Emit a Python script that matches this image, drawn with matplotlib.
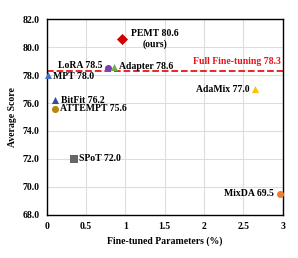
import matplotlib
matplotlib.use('Agg')
from matplotlib import pyplot as plt

# data
methods = ['PEMT', 'LoRA', 'Adapter', 'MPT', 'BitFit', 'ATTEMPT', 'SPoT', 'AdaMix', 'MixDA']
params = [0.95, 0.78, 0.85, 0.01, 0.11, 0.10, 0.34, 2.65, 2.96]
scores = [80.6, 78.5, 78.6, 78.0, 76.2, 75.6, 72.0, 77.0, 69.5]
markers = ['D', 'o', '^', '^', '^', 'o', 's', '^', 'o']
colors = ['#cc0000', '#7b3fb5', '#70ad47', '#4472c4', '#2f4f8f', '#b8860b', '#666666', '#ffc000', '#ed7d31']
sides = ['pemt', 'left', 'right', 'right', 'right', 'right', 'right', 'left', 'left']
dy = [0, 1.5, 0, -1, 0, 0, 0, 0, 0]
full_ft = 78.3

plt.rcParams['font.family'] = ['Liberation Serif', 'DejaVu Serif']
plt.rcParams['font.weight'] = 'bold'

fig = plt.figure(figsize=(2.98, 2.58), dpi=100)
ax = fig.add_axes([0.157, 0.167, 0.792, 0.759])

ax.grid(True, color='#dddddd', linewidth=0.8)
ax.set_axisbelow(True)

for m, x, y, mk, c, side, d in zip(methods, params, scores, markers, colors, sides, dy):
    ax.scatter(x, y, marker=mk, color=c, s=26 if mk != 'D' else 32, zorder=3, clip_on=False,
               linewidths=0)
    if side == 'pemt':
        ax.annotate(f'{m} {y}\n(ours)', (x, y), xytext=(7, 0), textcoords='offset points',
                    ha='left', va='center', multialignment='center', fontsize=7, fontweight='bold')
    elif side == 'left':
        ax.annotate(f'{m} {y}', (x, y), xytext=(-4, d), textcoords='offset points',
                    ha='right', va='center', fontsize=7, fontweight='bold')
    else:
        ax.annotate(f'{m} {y}', (x, y), xytext=(4, d), textcoords='offset points',
                    ha='left', va='center', fontsize=7, fontweight='bold')

ax.axhline(full_ft, color='#e8141c', linestyle='--', linewidth=1.3, zorder=2)
ax.text(2.97, full_ft + 0.35, f'Full Fine-tuning {full_ft}', color='#e8141c',
        ha='right', va='bottom', fontsize=7, fontweight='bold')

ax.set_xlim(0, 3)
ax.set_ylim(68, 82)
ax.set_xticks([0, 0.5, 1, 1.5, 2, 2.5, 3])
ax.set_xticklabels(['0', '0.5', '1', '1.5', '2', '2.5', '3'])
ax.set_yticks([68, 70, 72, 74, 76, 78, 80, 82])
ax.set_yticklabels([f'{v:.1f}' for v in range(68, 83, 2)])
ax.tick_params(labelsize=7, length=0, pad=5)
for lab in ax.get_xticklabels() + ax.get_yticklabels():
    lab.set_fontweight('bold')

for s in ax.spines.values():
    s.set_color('black')
    s.set_linewidth(1.0)

ax.set_xlabel('Fine-tuned Parameters (%)', fontsize=7, fontweight='bold', labelpad=4)
ax.set_ylabel('Average Score', fontsize=7, fontweight='bold', labelpad=4)

fig.savefig('out.png', dpi=100)
